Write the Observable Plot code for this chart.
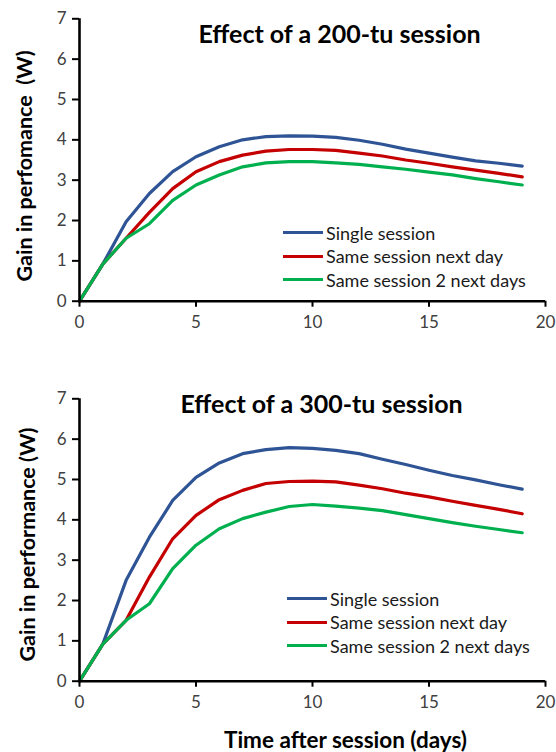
<!DOCTYPE html>
<html><head><meta charset="utf-8">
<script src="https://cdn.jsdelivr.net/npm/d3@7"></script>
<script src="https://cdn.jsdelivr.net/npm/@observablehq/plot@0.6"></script>
<style>
body{margin:0;background:#fff;font-family:Lato,sans-serif}
#wrap{position:relative;width:556px;height:752px;overflow:hidden}
#wrap svg{display:block}
.leg{position:absolute;font-family:Lato,sans-serif;font-size:18px;color:#1a1a1a}
.leg .row{height:23.5px;display:flex;align-items:center;white-space:nowrap}
.leg .sw{display:inline-block;width:40px;height:3px;margin-right:3px}
</style></head><body><div id="wrap"></div>
<script>
// ---- data ----
const days = [0,1,2,3,4,5,6,7,8,9,10,11,12,13,14,15,16,17,18,19];
const seriesNames = ["Single session","Same session next day","Same session 2 next days"];
const seriesColors = ["#2E5495","#C40000","#00B04F"];
const xTicks = [0,5,10,15,20];
const yTicks = [0,1,2,3,4,5,6,7];

const single200   = [0,0.92,1.97,2.67,3.21,3.58,3.83,4.00,4.08,4.10,4.09,4.06,3.99,3.89,3.77,3.67,3.57,3.48,3.42,3.35];
const nextDay200  = [0,0.92,1.56,2.20,2.79,3.21,3.46,3.62,3.72,3.76,3.76,3.74,3.67,3.60,3.50,3.42,3.33,3.25,3.17,3.08];
const twoDays200  = [0,0.92,1.56,1.92,2.50,2.88,3.13,3.33,3.43,3.46,3.46,3.43,3.39,3.33,3.27,3.20,3.13,3.04,2.96,2.88];

const single300   = [0,0.92,2.50,3.57,4.48,5.05,5.41,5.64,5.74,5.79,5.77,5.72,5.64,5.50,5.37,5.23,5.10,4.99,4.87,4.76];
const nextDay300  = [0,0.92,1.51,2.58,3.53,4.11,4.50,4.73,4.90,4.95,4.96,4.94,4.86,4.77,4.66,4.57,4.46,4.36,4.26,4.15];
const twoDays300  = [0,0.92,1.51,1.92,2.79,3.37,3.78,4.03,4.19,4.33,4.38,4.34,4.29,4.23,4.13,4.03,3.93,3.84,3.76,3.68];

const title200 = "Effect of a 200-tu session";
const title300 = "Effect of a 300-tu session";
const yLabel200 = "Gain in perfomance  (W)";
const yLabel300 = "Gain in performance (W)";
const xLabel = "Time after session (days)";

function rows(arrs){
  const out = [];
  arrs.forEach((a, si) => a.forEach((v, i) => out.push({day: days[i], value: v, series: seriesNames[si]})));
  return out;
}

function panel(o){
  const marks = [
    Plot.line(o.data, {x:"day", y:"value", stroke:"series", z:"series", strokeWidth:3.2, strokeLinejoin:"round", strokeLinecap:"round"}),
    Plot.axisY({ticks: yTicks, tickFormat: d3.format("d"), tickSize: 7, tickPadding: 6, fontSize: 17, fill: "#404040", stroke: "black", strokeWidth: 2, label: null}),
    Plot.axisX({ticks: xTicks, tickFormat: d3.format("d"), tickSize: 6, tickPadding: 9, fontSize: 17, fill: "#404040", stroke: "black", strokeWidth: 2, label: null}),
    Plot.ruleX([0], {stroke: "black", strokeWidth: 2.6}),
    Plot.ruleY([0], {stroke: "black", strokeWidth: 2.6}),
    Plot.text([o.title], {frameAnchor: "top", dx: o.titleDx, dy: o.titleDy, fontSize: 25, fontWeight: "bold", fill: "black", lineAnchor: "middle", textAnchor: "middle"}),
    Plot.text([o.ylabel], {frameAnchor: "left", rotate: -90, dx: o.ylDx, dy: o.ylDy, fontSize: 21.5, fontWeight: "bold", fill: "black", lineAnchor: "middle", textAnchor: "middle"})
  ];
  if (o.xlabel) marks.push(Plot.text([o.xlabel], {frameAnchor: "bottom", dx: 33, dy: 60, fontSize: 22.5, fontWeight: "bold", fill: "black", lineAnchor: "middle", textAnchor: "middle"}));
  return Plot.plot({
    width: 556, height: o.height,
    marginLeft: 79, marginRight: 11, marginTop: o.marginTop, marginBottom: o.marginBottom,
    style: {fontFamily: "Lato, sans-serif", overflow: "visible", background: "white"},
    x: {domain: [0, 20]},
    y: {domain: [0, 7]},
    color: {domain: seriesNames, range: seriesColors},
    marks
  });
}

const wrap = document.getElementById("wrap");
wrap.append(panel({data: rows([single200, nextDay200, twoDays200]), title: title200, ylabel: yLabel200,
  height: 340, marginTop: 18.3, marginBottom: 39.3, titleDx: 27, titleDy: 16, ylDx: -54, ylDy: 6}));
wrap.append(panel({data: rows([single300, nextDay300, twoDays300]), title: title300, ylabel: yLabel300, xlabel: xLabel,
  height: 412, marginTop: 58.3, marginBottom: 71.3, titleDx: 9, titleDy: 6, ylDx: -51, ylDy: 4.5}));

function legend(left, top){
  const d = document.createElement("div");
  d.className = "leg";
  d.style.left = left + "px";
  d.style.top = top + "px";
  seriesNames.forEach((n, i) => {
    const r = document.createElement("div");
    r.className = "row";
    const s = document.createElement("span");
    s.className = "sw"; s.style.background = seriesColors[i];
    r.append(s, document.createTextNode(n));
    d.append(r);
  });
  wrap.append(d);
}
legend(283, 221);
legend(287, 587);
</script></body></html>
